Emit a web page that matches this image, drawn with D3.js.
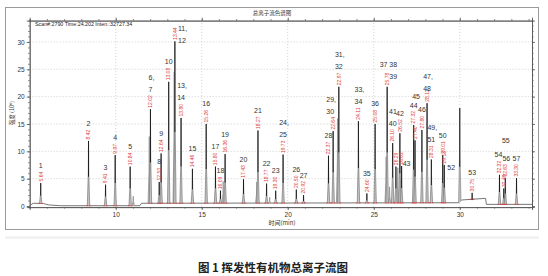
<!DOCTYPE html>
<html>
<head>
<meta charset="utf-8">
<script src="https://cdn.jsdelivr.net/npm/d3@7"></script>
<style>
  body { margin: 0; background: #fff; }
  svg { display: block; }
</style>
</head>
<body>
<div id="chart"></div>
<script>
// Labelled peaks: retention time (min), height (x10^6), peak number, printed RT
var peakTimes = [5.64, 8.42, 9.41, 9.97, 10.84, 12.02, 12.53, 12.64, 13.08, 13.44, 13.80, 14.46, 15.26, 15.80, 16.09, 16.36, 17.43, 18.27, 18.77, 19.30, 19.73, 20.50, 20.92, 22.37, 22.64, 22.97, 24.11, 24.60, 25.08, 25.78, 26.10, 26.29, 26.52, 26.62, 27.32, 27.40, 27.80, 28.10, 28.35, 29.01, 29.10, 30.72, 32.31, 32.56, 32.65, 33.30];
var peakHeights = [4.2, 11.9, 3.9, 9.3, 7.2, 17.7, 4.4, 9.6, 22.7, 30.1, 16.1, 6.8, 15.0, 7.2, 2.8, 9.5, 4.9, 13.8, 4.1, 2.8, 9.4, 3.0, 2.0, 9.2, 13.7, 21.8, 15.5, 2.3, 15.0, 21.8, 11.5, 7.2, 13.3, 7.3, 14.8, 12.0, 13.9, 18.8, 8.5, 9.3, 7.5, 2.4, 5.7, 3.2, 5.1, 5.1];
var peakLabels = ["1", "2", "3", "4", "5", "6,\n7", "8", "9", "10", "11,\n12", "13,\n14", "15", "16", "17", "18", "19", "20", "21", "22", "23", "24,\n25", "26", "27", "28", "29,\n30", "31,\n32", "33,\n34", "35", "36", "37 38\n39", "40", "41", "42", "43", "44", "45", "46", "47,\n48", "49,\n51", "50", "52", "53", "54", "55", "56", "57"];
var peakRT = ["5.64", "8.42", "9.41", "9.97", "10.84", "12.02", "12.53", "12.64", "13.08", "13.44", "13.80", "14.46", "15.26", "15.80", "16.09", "16.36", "17.43", "18.27", "18.77", "19.30", "19.73", "20.50", "20.92", "22.37", "22.64", "22.97", "24.11", "24.60", "25.08", "25.78", "26.10", "26.29", "26.52", "26.62", "27.32", "27.40", "27.80", "28.12", "28.31", "29.01", "29.13", "30.75", "32.32", "32.49", "32.63", "33.30"];

// Unlabelled / shoulder peaks [time, height]
var extraPeaks = [[11.02, 1.8], [11.95, 12.7], [13.40, 24.5], [16.25, 4.5], [18.20, 4.4], [18.95, 1.6], [22.90, 16.0], [25.72, 9.0], [25.92, 3.5], [26.40, 7.0], [30.00, 17.9]];

// Baseline drift [time, value]
var baseline = [[5.0, 0.05], [5.2, 0.5], [5.8, 0.45], [6.1, 0.2], [6.8, 0.05], [11.4, 0.05], [11.5, 0.5], [29.95, 0.6], [30.1, 1.1], [31.5, 1.4], [31.55, 0.3], [34.2, 0.3]];

var xTicks = [10, 15, 20, 25, 30];
var yTicks = [0, 5, 10, 15, 20, 25, 30];

// label nudges for crowded spots (layout only)
var nudge = {
  "11,\n12": { dx: 7, dy: 19 },
  "37 38\n39": { dx: 0, dy: 10, end: 10 },
  "41": { dx: -3, dy: -35 },
  "43": { dx: 5, dy: 17 },
  "45": { dx: 1, dy: -24 },
  "47,\n48": { dx: 0, dy: 5 },
  "52": { dx: 7, dy: 23 },
  "54": { dx: -1, dy: 0 },
  "55": { dx: 2, dy: -28 },
  "56": { dx: 1, dy: 0 },
  "29,\n30": { dx: -3, dy: 0 }
};

function init() {
  var W = 548, H = 276;
  var svg = d3.select("#chart").append("svg").attr("width", W).attr("height", H);
  var font = "'Liberation Sans', Arial, sans-serif";
  var cjk = "'Noto Sans CJK SC', sans-serif";

  // outer frame
  svg.append("rect").attr("x", 5.5).attr("y", 7.5).attr("width", 533).attr("height", 222)
    .attr("fill", "none").attr("stroke", "#9a9a9a");
  svg.append("rect").attr("x", 5).attr("y", 236).attr("width", 534).attr("height", 3).attr("fill", "#f2f2f2");

  svg.append("text").attr("x", 272).attr("y", 15).attr("text-anchor", "middle")
    .style("font-family", cjk).style("font-size", "5.5px").attr("fill", "#333").text("总离子流色谱图");

  var x = d3.scaleLinear().domain([5, 34.2]).range([29.7, 532]);
  var y = d3.scaleLinear().domain([-0.2, 33.9]).range([207.1, 20.6]);
  var x0 = x.range()[0], x1 = x.range()[1], y0 = y.range()[0], y1 = y.range()[1];

  // grid
  var g = svg.append("g");
  g.selectAll(".gy").data(yTicks.filter(function (d) { return d > 0; })).enter().append("line")
    .attr("x1", x0).attr("x2", x1).attr("y1", function (d) { return y(d); }).attr("y2", function (d) { return y(d); })
    .attr("stroke", "#bbb").attr("stroke-width", 0.7).attr("stroke-dasharray", "1,2");
  g.selectAll(".gx").data(xTicks).enter().append("line")
    .attr("y1", y0).attr("y2", y1).attr("x1", function (d) { return x(d); }).attr("x2", function (d) { return x(d); })
    .attr("stroke", "#bbb").attr("stroke-width", 0.7).attr("stroke-dasharray", "1,2");

  // axes: major + minor ticks on all four sides
  var yMinor = d3.range(0, 34, 1), xMinor = d3.range(5, 35, 1);
  function styleAxis(sel) {
    sel.selectAll("path, line").attr("stroke", "#555").attr("stroke-width", 0.8);
    sel.selectAll("text").style("font-family", font).style("font-size", "6.5px").attr("fill", "#333");
  }
  var axes = [
    [d3.axisLeft(y).tickValues(yTicks).tickSize(3).tickPadding(2), "translate(" + x0 + ",0)"],
    [d3.axisLeft(y).tickValues(yMinor).tickSize(1.5).tickFormat(""), "translate(" + x0 + ",0)"],
    [d3.axisRight(y).tickValues(yTicks).tickSize(3).tickFormat(""), "translate(" + x1 + ",0)"],
    [d3.axisRight(y).tickValues(yMinor).tickSize(1.5).tickFormat(""), "translate(" + x1 + ",0)"],
    [d3.axisBottom(x).tickValues(xTicks).tickSize(3).tickPadding(2), "translate(0," + y0 + ")"],
    [d3.axisBottom(x).tickValues(xMinor).tickSize(1.5).tickFormat(""), "translate(0," + y0 + ")"],
    [d3.axisTop(x).tickValues(xTicks).tickSize(3).tickFormat(""), "translate(0," + y1 + ")"],
    [d3.axisTop(x).tickValues(xMinor).tickSize(1.5).tickFormat(""), "translate(0," + y1 + ")"]
  ];
  axes.forEach(function (a) {
    var ag = svg.append("g").attr("transform", a[1]).call(a[0]);
    styleAxis(ag);
  });

  // axis titles
  svg.append("text").attr("x", 282).attr("y", 225).attr("text-anchor", "middle")
    .style("font-family", cjk).style("font-size", "6px").attr("fill", "#333").text("时间(min)");
  svg.append("text").attr("transform", "translate(14,113) rotate(-90)").attr("text-anchor", "middle")
    .style("font-family", cjk).style("font-size", "5.5px").attr("fill", "#333").text("强度 (10⁶)");

  svg.append("text").attr("x", 35).attr("y", 26)
    .style("font-family", font).style("font-size", "5.3px").attr("fill", "#222")
    .text("Scan#:2790  Time:24.202  Inten.:32727.34");

  // baseline trace
  var line = d3.line().x(function (d) { return x(d[0]); }).y(function (d) { return y(d[1]); });
  svg.append("path").datum(baseline).attr("d", line).attr("fill", "none").attr("stroke", "#666").attr("stroke-width", 0.9);

  function baseAt(t) {
    for (var i = 1; i < baseline.length; i++) {
      if (t <= baseline[i][0]) {
        var a = baseline[i - 1], b = baseline[i];
        return a[1] + (b[1] - a[1]) * (t - a[0]) / (b[0] - a[0]);
      }
    }
    return baseline[baseline.length - 1][1];
  }

  var peaks = peakTimes.map(function (t, i) {
    return { t: t, h: peakHeights[i], lab: peakLabels[i], rt: peakRT[i] };
  });
  var w = 0.07;
  function spike(t, h) {
    return line([[t - w, baseAt(t - w)], [t - 0.015, h * 0.5], [t, h], [t + 0.015, h * 0.5], [t + w, baseAt(t + w)]]);
  }

  // gray peak bodies
  svg.append("g").selectAll("path").data(extraPeaks).enter().append("path")
    .attr("d", function (d) { return spike(d[0], d[1]); })
    .attr("fill", "#bdbdbd").attr("stroke", "#8a8a8a").attr("stroke-width", 0.7);
  svg.append("g").selectAll("path").data(peaks).enter().append("path")
    .attr("d", function (d) { return spike(d.t, d.h); })
    .attr("fill", "#c4c4c4").attr("stroke", "#7a7a7a").attr("stroke-width", 0.7);
  // dark apex strokes
  svg.append("g").selectAll("line").data(peaks).enter().append("line")
    .attr("x1", function (d) { return x(d.t); }).attr("x2", function (d) { return x(d.t); })
    .attr("y1", function (d) { return y(d.h); }).attr("y2", function (d) { return y(d.h * 0.45); })
    .attr("stroke", "#111").attr("stroke-width", 0.9);
  svg.append("line").datum(extraPeaks[extraPeaks.length - 1])
    .attr("x1", function (d) { return x(d[0]); }).attr("x2", function (d) { return x(d[0]); })
    .attr("y1", function (d) { return y(d[1]); }).attr("y2", function (d) { return y(d[1] * 0.4); })
    .attr("stroke", "#111").attr("stroke-width", 0.9);

  // red integration marks at peak feet
  var marks = svg.append("g");
  peaks.forEach(function (d) {
    [-w, w].forEach(function (o) {
      var t = d.t + o;
      marks.append("line").attr("x1", x(t) - 1).attr("x2", x(t) + 1)
        .attr("y1", y(baseAt(t))).attr("y2", y(baseAt(t)))
        .attr("stroke", "#e03a3a").attr("stroke-width", 0.8);
    });
  });

  // red retention-time labels
  var redG = svg.append("g");
  peaks.forEach(function (d) {
    var top = y(d.h);
    var t = redG.append("text")
      .attr("transform", "translate(" + (x(d.t) + 1.8) + "," + (top - 1.5) + ") rotate(-90)")
      .style("font-family", font).style("font-size", "5px").attr("fill", "#e03a3a").text(d.rt);
    d.redLen = t.node().getComputedTextLength();
  });

  // peak number labels
  var labG = svg.append("g");
  peaks.forEach(function (d) {
    var n = nudge[d.lab] || { dx: 0, dy: 0 };
    var lines = d.lab.split("\n");
    var baseY = y(d.h) - d.redLen - 5 + n.dy;
    var txt = labG.append("text").style("font-family", font).style("font-size", "7px").attr("fill", "#333");
    lines.forEach(function (s, i) {
      txt.append("tspan").attr("y", baseY - (lines.length - 1 - i) * 12).text(s);
    });
    if (n.end !== undefined) {
      // right-aligned stack
      txt.attr("text-anchor", "end");
      txt.selectAll("tspan").attr("x", x(d.t) + n.end);
      return;
    }
    // align left edges so trailing commas hang right
    var lastW = txt.selectAll("tspan").nodes()[lines.length - 1].getComputedTextLength();
    txt.selectAll("tspan").attr("x", x(d.t) - lastW / 2 + n.dx);
  });

  // caption
  svg.append("text").attr("x", 273).attr("y", 272).attr("text-anchor", "middle")
    .style("font-family", cjk).style("font-size", "11.5px").style("font-weight", "700").attr("fill", "#222")
    .text("图 1  挥发性有机物总离子流图");
}

window.onload = init;
</script>
</body>
</html>
